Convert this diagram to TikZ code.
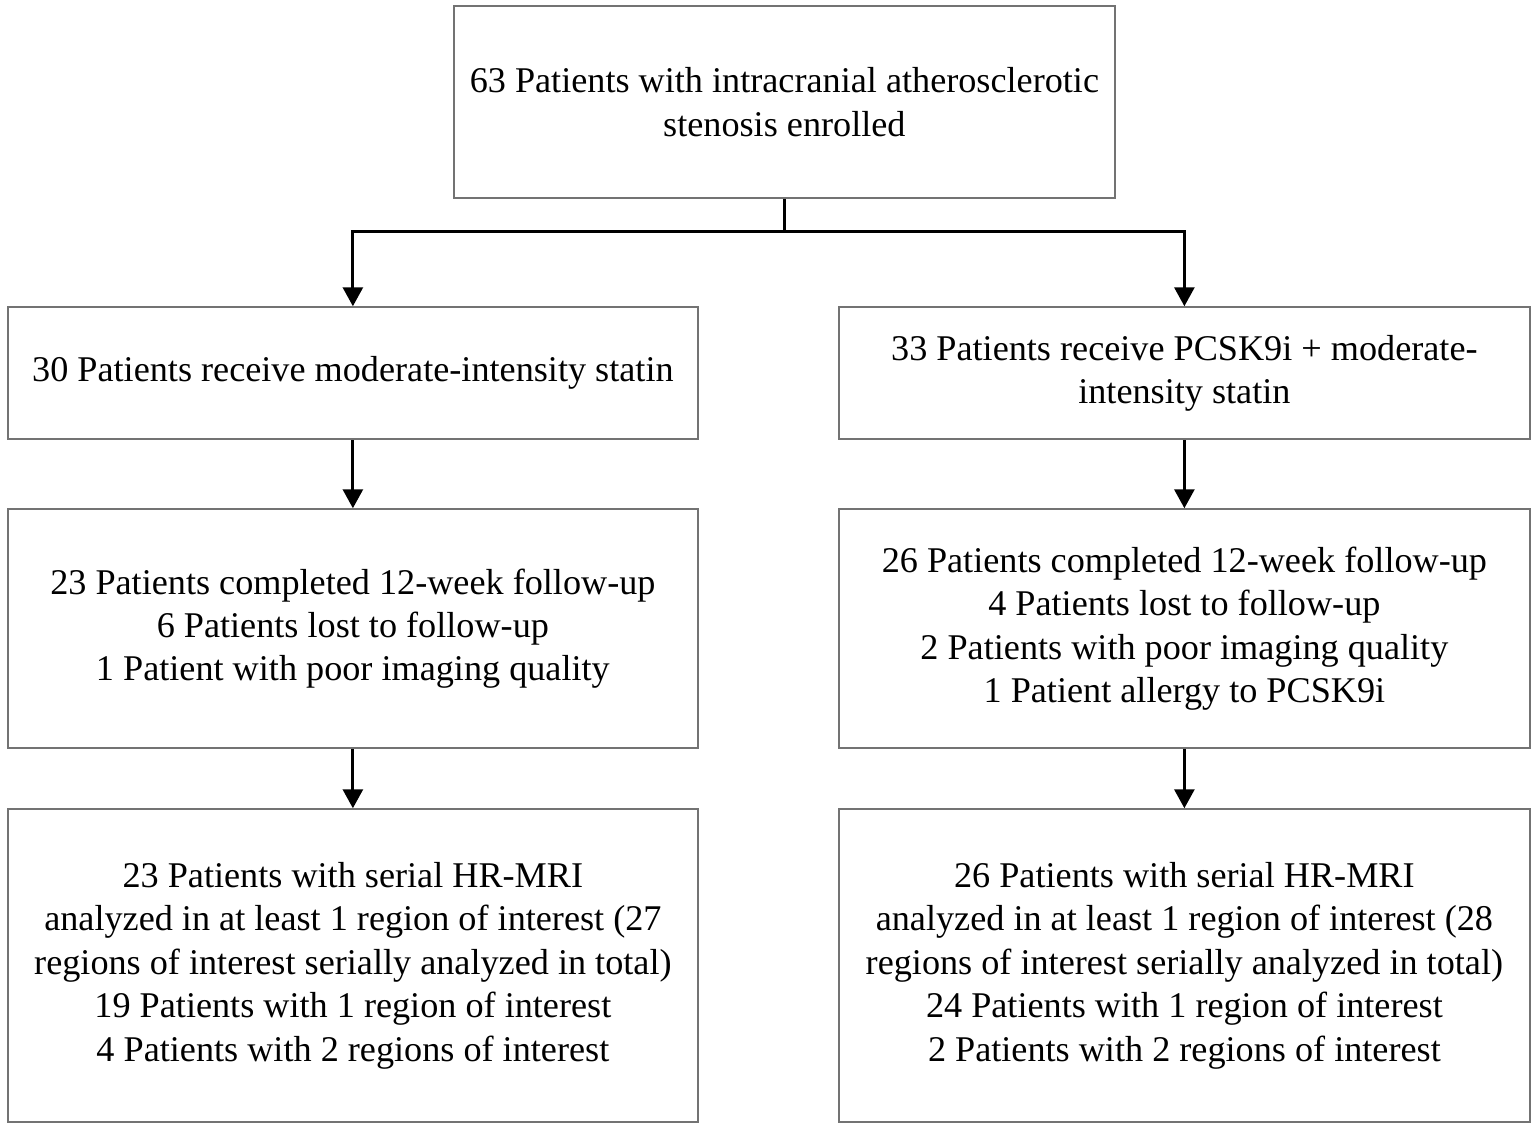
\documentclass[tikz,border=0pt]{standalone}
\usepackage{fontspec}
\setmainfont{Liberation Serif}
\usepackage{tikz}
\usetikzlibrary{calc}
\usetikzlibrary{arrows.meta}
\usetikzlibrary{positioning}

\begin{document}
\begin{tikzpicture}[
	flowbox/.style={rectangle, draw=black!55, line width=0.5pt, align=center, inner sep=0pt, anchor=south west, font=\fontsize{10.3}{12.35}\selectfont},
	flowline/.style={black, line width=0.85pt},
	>={Triangle[width=0.2cm, length=0.19cm]}
]

\useasboundingbox (0,0) rectangle (15.36,-11.31);

% top
\node at (4.53,-1.99) [flowbox, minimum height = 1.92cm, minimum width = 6.61cm] (enrolled) {63 Patients with intracranial atherosclerotic\\stenosis enrolled};

% left arm
\node at (0.07,-4.40) [flowbox, minimum height = 1.32cm, minimum width = 6.90cm] (statin) {30 Patients receive moderate-intensity statin};
\node at (0.07,-7.49) [flowbox, minimum height = 2.39cm, minimum width = 6.90cm] (statinfu) {23 Patients completed 12-week follow-up\\6 Patients lost to follow-up\\1 Patient with poor imaging quality};
\node at (0.07,-11.23) [flowbox, minimum height = 3.13cm, minimum width = 6.90cm] (statinmri) {23 Patients with serial HR-MRI\\analyzed in at least 1 region of interest (27\\regions of interest serially analyzed in total)\\19 Patients with 1 region of interest\\4 Patients with 2 regions of interest};

% right arm
\node at (8.38,-4.40) [flowbox, minimum height = 1.32cm, minimum width = 6.91cm] (pcsk) {33 Patients receive PCSK9i + moderate-\\intensity statin};
\node at (8.38,-7.49) [flowbox, minimum height = 2.39cm, minimum width = 6.91cm] (pcskfu) {26 Patients completed 12-week follow-up\\4 Patients lost to follow-up\\2 Patients with poor imaging quality\\1 Patient allergy to PCSK9i};
\node at (8.38,-11.23) [flowbox, minimum height = 3.13cm, minimum width = 6.91cm] (pcskmri) {26 Patients with serial HR-MRI\\analyzed in at least 1 region of interest (28\\regions of interest serially analyzed in total)\\24 Patients with 1 region of interest\\2 Patients with 2 regions of interest};

\coordinate (split) at ($(enrolled.south)+(0,-0.32)$);

\draw [flowline] (enrolled.south) -- (split);
\draw [flowline, ->] (split) -| (statin.north);
\draw [flowline, ->] (split) -| (pcsk.north);
\draw [flowline, ->] (statin.south) -- (statinfu.north);
\draw [flowline, ->] (statinfu.south) -- (statinmri.north);
\draw [flowline, ->] (pcsk.south) -- (pcskfu.north);
\draw [flowline, ->] (pcskfu.south) -- (pcskmri.north);

\end{tikzpicture}
\end{document}
